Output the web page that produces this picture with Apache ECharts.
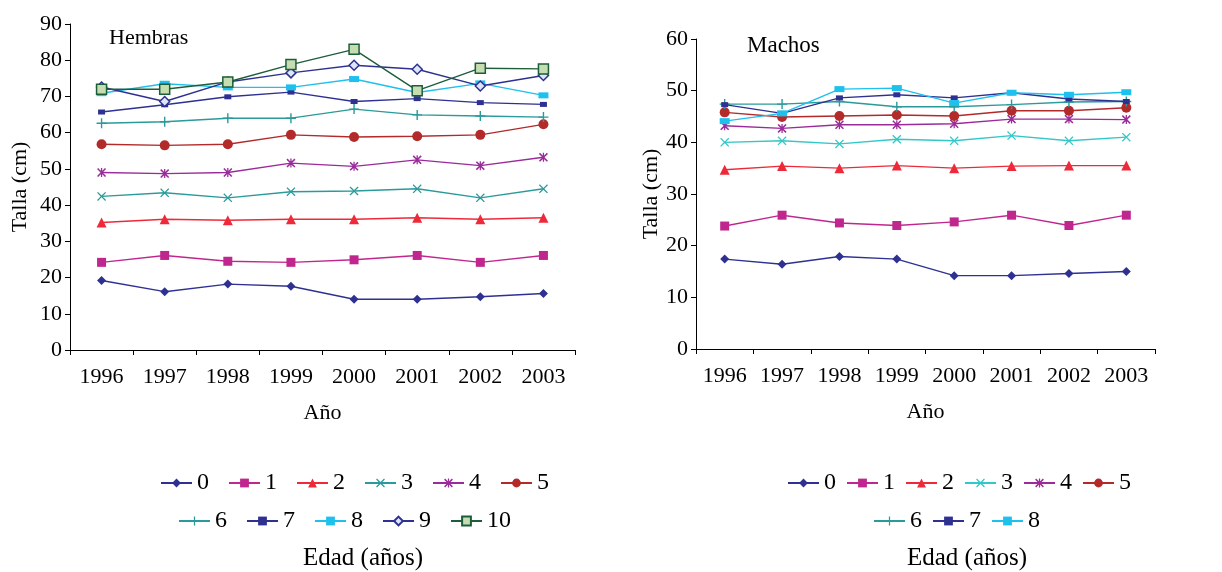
<!DOCTYPE html>
<html>
<head>
<meta charset="utf-8">
<script src="https://cdn.jsdelivr.net/npm/echarts@6/dist/echarts.min.js"></script>
<style>
html,body{margin:0;padding:0;background:#fff;}
#c{width:1222px;height:572px;}
</style>
</head>
<body>
<div id="c"></div>
<script>
const years = ['1996','1997','1998','1999','2000','2001','2002','2003'];

// Hembras (females), talla by edad
const h0  = [19.2, 16.1, 18.2, 17.6, 14.0, 14.0, 14.7, 15.6];
const h1  = [24.2, 26.1, 24.5, 24.2, 24.9, 26.1, 24.2, 26.1];
const h2  = [35.2, 36.1, 35.8, 36.1, 36.1, 36.5, 36.1, 36.5];
const h3  = [42.4, 43.4, 42.0, 43.7, 43.9, 44.5, 42.0, 44.5];
const h4  = [49.0, 48.7, 49.0, 51.6, 50.7, 52.5, 50.9, 53.2];
const h5  = [56.8, 56.5, 56.8, 59.4, 58.8, 59.0, 59.4, 62.3];
const h6  = [62.6, 63.0, 64.0, 64.0, 66.5, 64.9, 64.6, 64.3];
const h7  = [65.7, 67.7, 69.9, 71.2, 68.6, 69.4, 68.3, 67.8];
const h8  = [70.9, 73.5, 72.5, 72.5, 74.8, 71.1, 73.6, 70.3];
const h9  = [72.6, 68.6, 74.0, 76.5, 78.6, 77.5, 72.9, 75.8];
const h10 = [72.0, 72.0, 74.0, 78.8, 83.0, 71.6, 77.8, 77.6];

// Machos (males)
const m0 = [17.4, 16.4, 17.9, 17.4, 14.2, 14.2, 14.6, 15.0];
const m1 = [23.8, 25.9, 24.4, 23.9, 24.6, 25.9, 23.9, 25.9];
const m2 = [34.7, 35.4, 35.0, 35.5, 35.0, 35.4, 35.5, 35.5];
const m3 = [40.0, 40.3, 39.7, 40.6, 40.3, 41.3, 40.3, 41.0];
const m4 = [43.2, 42.7, 43.4, 43.4, 43.6, 44.5, 44.5, 44.4];
const m5 = [45.8, 44.9, 45.1, 45.3, 45.1, 46.1, 46.1, 46.7];
const m6 = [47.4, 47.4, 47.9, 46.9, 46.9, 47.3, 47.8, 47.9];
const m7 = [47.3, 45.6, 48.6, 49.2, 48.6, 49.6, 48.4, 47.9];
const m8 = [44.1, 45.6, 50.3, 50.5, 47.6, 49.6, 49.2, 49.7];

const hTicks = [0, 10, 20, 30, 40, 50, 60, 70, 80, 90];
const mTicks = [0, 10, 20, 30, 40, 50, 60];

const FONT = '"Liberation Serif", "Times New Roman", serif';

const PLUS = 'path://M4.3,0 H5.7 V4.3 H10 V5.7 H5.7 V10 H4.3 V5.7 H0 V4.3 H4.3 Z';
const CROSS = 'path://M0,1 L1,0 L5,4 L9,0 L10,1 L6,5 L10,9 L9,10 L5,6 L1,10 L0,9 L4,5 Z';
const STAR = 'path://M0,1.2 L1.2,0 L5,3.8 L8.8,0 L10,1.2 L6.2,5 L10,8.8 L8.8,10 L5,6.2 L1.2,10 L0,8.8 L3.8,5 Z M4.3,0 H5.7 V10 H4.3 Z';

const styles = {
  0: {color:'#2E3192', symbol:'diamond', size:9},
  1: {color:'#C0278E', symbol:'rect', size:9},
  2: {color:'#EE2A3A', symbol:'triangle', size:10},
  3: {color:'#2A9A9A', symbol:CROSS, size:9},
  4: {color:'#9B2A9B', symbol:STAR, size:9},
  5: {color:'#B22A2A', symbol:'circle', size:10},
  6: {color:'#2A9A9A', symbol:PLUS, size:10},
  7: {color:'#2E3192', symbol:'rect', size:[7,5]},
  8: {color:'#1EC0EE', symbol:'rect', size:[10,6]},
  9: {color:'#2E3192', symbol:'diamond', size:10, fill:'#DDE6F7'},
  10:{color:'#1D5E3A', symbol:'rect', size:10, fill:'#C5DDB0'}
};

function mk(prefix, age, data, gridIdx, colorOverride) {
  const s = styles[age];
  const color = colorOverride || s.color;
  return {
    name: prefix + age,
    type: 'line',
    xAxisIndex: gridIdx,
    yAxisIndex: gridIdx,
    data: data,
    symbol: s.symbol,
    symbolSize: s.size,
    showAllSymbol: true,
    lineStyle: {color: color, width: 1.4},
    itemStyle: s.fill ? {color: s.fill, borderColor: color, borderWidth: 1.5} : {color: color, borderWidth: 0},
    emphasis: {disabled: true},
    z: 2 + age
  };
}

const hData = [h0,h1,h2,h3,h4,h5,h6,h7,h8,h9,h10];
const mData = [m0,m1,m2,m3,m4,m5,m6,m7,m8];
const series = [];
hData.forEach((d,i)=>series.push(mk('H', i, d, 0)));
mData.forEach((d,i)=>series.push(mk('M', i, d, 1, i===3 ? '#33C7C7' : null)));

function xAxis(gridIndex) {
  return {
    type: 'category', gridIndex, data: years, boundaryGap: true,
    name: 'Año', nameLocation: 'middle', nameGap: 52,
    nameTextStyle: {fontFamily: FONT, fontSize: 22, color: '#000'},
    axisLine: {lineStyle: {color: '#000', width: 1}},
    axisTick: {show: true, alignWithLabel: false, length: 5, lineStyle: {color: '#000'}},
    axisLabel: {fontFamily: FONT, fontSize: 22, color: '#000', margin: 16, interval: 0},
    splitLine: {show: false}
  };
}
function yAxis(gridIndex, ticks, gap) {
  return {
    type: 'value', gridIndex,
    min: ticks[0], max: ticks[ticks.length-1], interval: ticks[1]-ticks[0],
    name: 'Talla (cm)', nameLocation: 'middle', nameGap: gap, nameRotate: 90,
    nameTextStyle: {fontFamily: FONT, fontSize: 22, color: '#000'},
    axisLine: {show: true, lineStyle: {color: '#000', width: 1}},
    axisTick: {show: true, length: 5, lineStyle: {color: '#000'}},
    axisLabel: {fontFamily: FONT, fontSize: 22, color: '#000', margin: 8},
    splitLine: {show: false}
  };
}

function legend(names, left, top, gap) {
  return {
    data: names, left: left, top: top, orient: 'horizontal', padding: 0,
    itemWidth: 31, itemHeight: 11, itemGap: gap,
    formatter: n => n.slice(1),
    textStyle: {fontFamily: FONT, fontSize: 24, color: '#000'},
    selectedMode: false
  };
}

const option = {
  backgroundColor: '#fff',
  animation: false,
  title: [
    {text: 'Hembras', left: 104, top: 22, textStyle: {fontFamily: FONT, fontSize: 22, fontWeight: 'normal', color: '#000'}},
    {text: 'Machos', left: 742, top: 29, textStyle: {fontFamily: FONT, fontSize: 23, fontWeight: 'normal', color: '#000'}},
    {text: 'Edad (años)', left: 298, top: 541, textStyle: {fontFamily: FONT, fontSize: 25, fontWeight: 'normal', color: '#000'}},
    {text: 'Edad (años)', left: 902, top: 541, textStyle: {fontFamily: FONT, fontSize: 25, fontWeight: 'normal', color: '#000'}}
  ],
  grid: [
    {left: 70, right: 647, top: 24, bottom: 222},
    {left: 696, right: 67, top: 39, bottom: 223}
  ],
  xAxis: [xAxis(0), xAxis(1)],
  yAxis: [yAxis(0, hTicks, 39), yAxis(1, mTicks, 34)],
  legend: [
    legend(['H0','H1','H2','H3','H4','H5'], 160, 471, 19),
    legend(['H6','H7','H8','H9','H10'], 178, 509, 19),
    legend(['M0','M1','M2','M3','M4','M5'], 787, 471, 10),
    legend(['M6','M7','M8'], 873, 509, 10)
  ],
  series: series
};

const chart = echarts.init(document.getElementById('c'), null, {renderer: 'canvas'});
chart.setOption(option);
</script>
</body>
</html>
